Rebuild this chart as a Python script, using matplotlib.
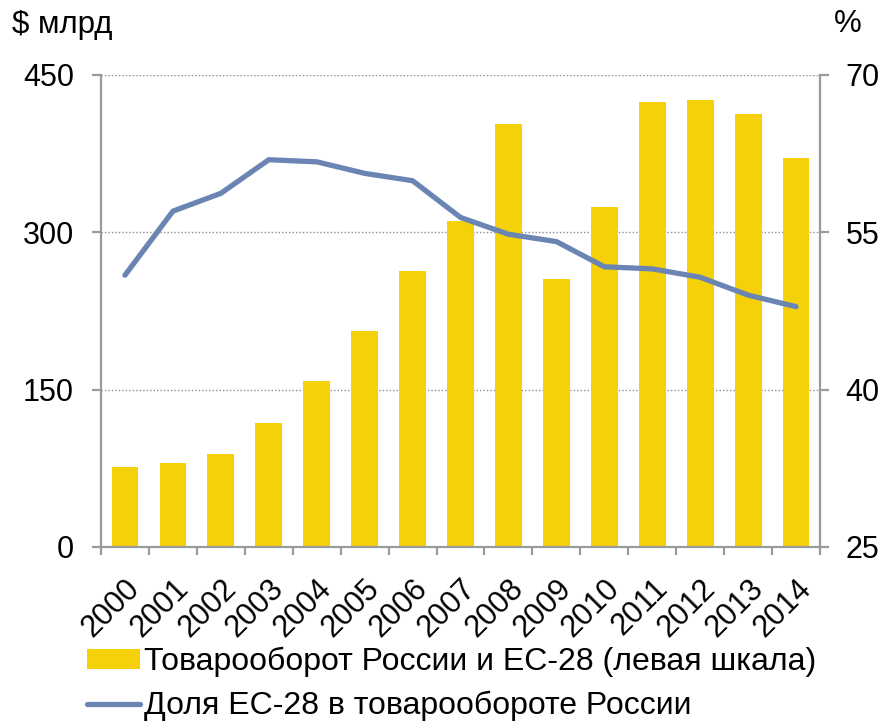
import numpy as np
import matplotlib.pyplot as plt
from matplotlib.lines import Line2D
from matplotlib.patches import Patch

plt.rcParams['font.family'] = ['Liberation Sans', 'DejaVu Sans']

# Годы
years = ['2000', '2001', '2002', '2003', '2004', '2005', '2006', '2007',
         '2008', '2009', '2010', '2011', '2012', '2013', '2014']

# Товарооборот России и ЕС-28, $ млрд (левая шкала)
trade = [76, 80, 89, 118, 158, 206, 263, 311, 403, 255, 324, 424, 426, 413, 371]

# Доля ЕС-28 в товарообороте России, %
share = [50.9, 57.0, 58.7, 61.9, 61.7, 60.6, 59.9, 56.4, 54.8, 54.1, 51.7, 51.5, 50.7, 49.0, 47.9]

bar_color = '#F5D10A'
line_color = '#6A85B4'
axis_grey = '#9A9A9A'

fig = plt.figure(figsize=(8.87, 7.24), dpi=100)
ax = fig.add_axes([0.1139, 0.2445, 0.8106, 0.6523])
ax2 = ax.twinx()

x = np.arange(len(years))
ax.bar(x, trade, width=0.56, color=bar_color, zorder=2)
ax2.plot(x, share, color=line_color, lw=3.8, solid_capstyle='round', zorder=3)

ax.set_xlim(-0.5, len(years) - 0.5)
ax.set_ylim(0, 450)
ax2.set_ylim(25, 70)
ax.set_yticks([0, 150, 300, 450])
ax2.set_yticks([25, 40, 55, 70])

# сетка
ax.grid(axis='y', linestyle=(0, (1, 1.5)), color='#8C8C8C', lw=1.0, zorder=0)
ax.set_axisbelow(True)

# оси
for a in (ax, ax2):
    a.spines['top'].set_visible(False)
    for s in ('left', 'right', 'bottom'):
        a.spines[s].set_color(axis_grey)
        a.spines[s].set_linewidth(1.6)
ax.spines['right'].set_visible(False)
ax2.spines['left'].set_visible(False)
ax2.spines['bottom'].set_visible(False)

ax.tick_params(axis='y', length=6.5, width=1.6, color=axis_grey, labelsize=22, pad=13)
ax2.tick_params(axis='y', length=6.5, width=1.6, color=axis_grey, labelsize=22, pad=12)

ax.set_xticks(x)
ax.set_xticklabels(years, rotation=45, ha='right', rotation_mode='anchor', fontsize=22)
ax.tick_params(axis='x', which='major', length=0, pad=19)
ax.set_xticks(np.arange(-0.5, len(years)), minor=True)
ax.tick_params(axis='x', which='minor', length=6, width=1.6, color=axis_grey)

fig.text(12 / 887, 1 - 25 / 724, '$ млрд', fontsize=22.5, va='center', ha='left')
fig.text(862 / 887, 1 - 24 / 724, '%', fontsize=22.5, va='center', ha='right')

handles = [Patch(facecolor=bar_color, edgecolor='none'),
           Line2D([0], [0], color=line_color, lw=3.8, solid_capstyle='round')]
labels = ['Товарооборот России и ЕС-28 (левая шкала)',
          'Доля ЕС-28 в товарообороте России']
fig.legend(handles, labels, loc='upper left', bbox_to_anchor=(87 / 887, 1 - 647 / 724),
           frameon=False, fontsize=23, handlelength=1.65, handleheight=0.55,
           handletextpad=0.13, labelspacing=0.42, borderpad=0, borderaxespad=0)

fig.savefig('out.png', dpi=100)
